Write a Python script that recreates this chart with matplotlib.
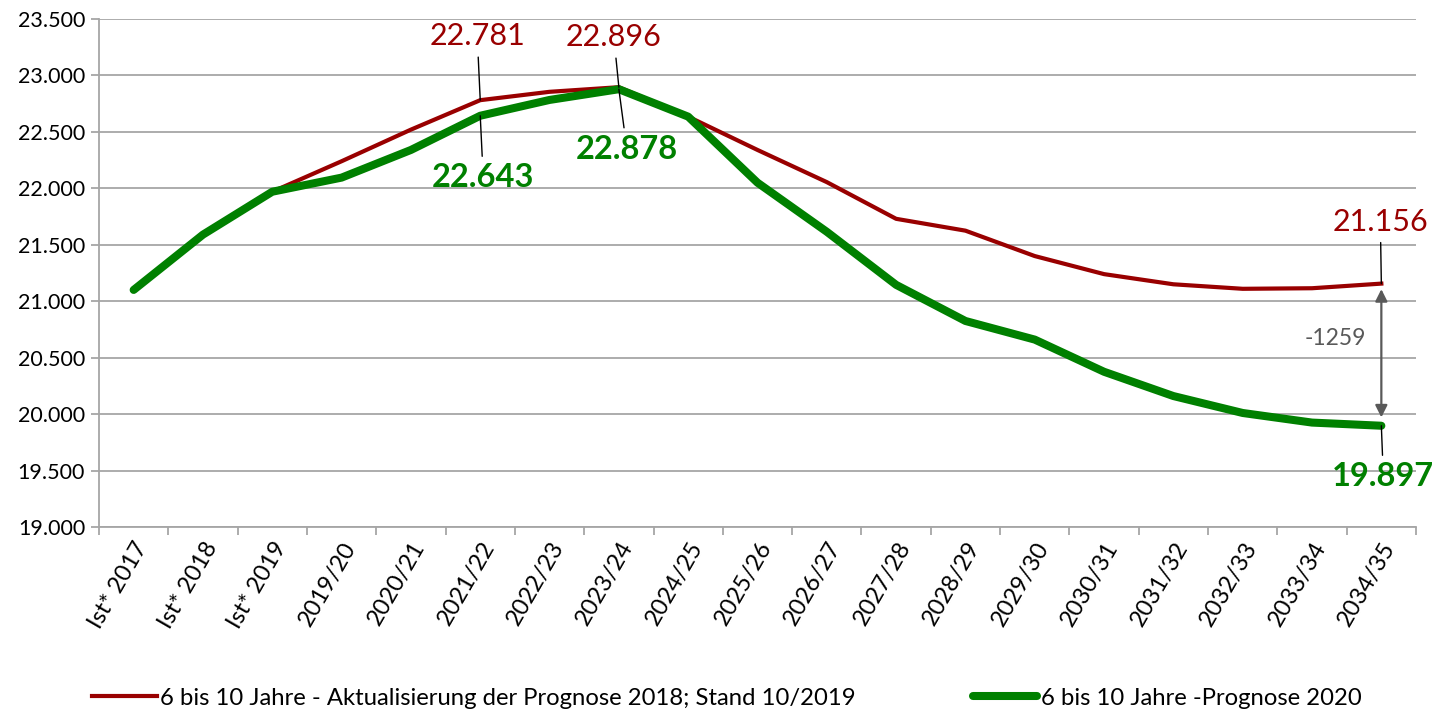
import matplotlib.pyplot as plt
from matplotlib.ticker import FuncFormatter, FixedLocator
import numpy as np

categories = ['Ist* 2017', 'Ist* 2018', 'Ist* 2019', '2019/20', '2020/21', '2021/22',
              '2022/23', '2023/24', '2024/25', '2025/26', '2026/27', '2027/28',
              '2028/29', '2029/30', '2030/31', '2031/32', '2032/33', '2033/34', '2034/35']

prognose_2018 = [21100, 21590, 21970, 22240, 22520, 22781, 22855, 22896, 22635, 22340,
                 22055, 21730, 21625, 21400, 21240, 21150, 21110, 21115, 21156]
prognose_2020 = [21100, 21590, 21970, 22095, 22340, 22643, 22783, 22878, 22635, 22050,
                 21615, 21145, 20825, 20660, 20375, 20160, 20010, 19925, 19897]

label_2018 = '6 bis 10 Jahre - Aktualisierung der Prognose 2018; Stand 10/2019'
label_2020 = '6 bis 10 Jahre -Prognose 2020'

RED = '#990000'
GREEN = '#008000'
GRID = '#a6a6a6'

plt.rcParams['font.family'] = ['Lato', 'DejaVu Sans']

fig = plt.figure(figsize=(14.37, 7.14), dpi=100)
ax = fig.add_axes([99 / 1437, 1 - 527 / 714, (1416 - 99) / 1437, (527 - 19) / 714])

x = np.arange(len(categories))
ax.plot(x, prognose_2018, color=RED, lw=3.0, solid_joinstyle='round', zorder=3, label=label_2018)
ax.plot(x, prognose_2020, color=GREEN, lw=5.8, solid_joinstyle='round', solid_capstyle='round',
        zorder=4, label=label_2020)

ax.set_xlim(-0.5, len(categories) - 0.5)
ax.set_ylim(19000, 23500)
ax.set_yticks(np.arange(19000, 23501, 500))
ax.yaxis.set_major_formatter(FuncFormatter(lambda v, p: f'{v:,.0f}'.replace(',', '.')))
ax.grid(axis='y', color=GRID, lw=1.3)
ax.set_axisbelow(True)

# ticks between categories, labels at category centres
ax.xaxis.set_major_locator(FixedLocator(np.arange(-0.5, len(categories), 1.0)))
ax.xaxis.set_major_formatter(FuncFormatter(lambda v, p: ''))
ax.xaxis.set_minor_locator(FixedLocator(x))
ax.set_xticklabels(categories, minor=True, rotation=60, ha='right', rotation_mode='anchor', fontsize=17)
ax.tick_params(axis='x', which='minor', length=0, pad=8)
ax.tick_params(axis='x', which='major', length=6, color=GRID, width=1.3)
ax.tick_params(axis='y', length=6, color=GRID, width=1.3, labelsize=15.5, pad=4)

for side in ['top', 'right']:
    ax.spines[side].set_visible(False)
for side in ['left', 'bottom']:
    ax.spines[side].set_color(GRID)
    ax.spines[side].set_linewidth(1.3)

def fmt(v):
    return f'{v:,.0f}'.replace(',', '.')

leader = dict(arrowstyle='-', color='black', lw=1.0, shrinkA=3, shrinkB=0)

# data labels with leader lines (offsets in pixels)
for idx, series, dx, dy, col, bold in [
        (5, prognose_2018, -3, 64, RED, False),
        (7, prognose_2018, -5, 50, RED, False),
        (18, prognose_2018, -1, 62, RED, False),
        (5, prognose_2020, 3, -62, GREEN, True),
        (7, prognose_2020, 8, -60, GREEN, True),
        (18, prognose_2020, 2, -51, GREEN, True)]:
    ax.annotate(fmt(series[idx]), xy=(idx, series[idx]), xytext=(dx, dy),
                textcoords='offset pixels', ha='center', va='center',
                fontsize=23.5 if bold else 22, color=col, fontweight='bold' if bold else 'normal',
                arrowprops=leader, zorder=5, annotation_clip=False)

# difference arrow at the end
last = len(categories) - 1
ax.annotate('', xy=(last, prognose_2020[-1]), xytext=(last, prognose_2018[-1]),
            arrowprops=dict(arrowstyle='<|-|>', color='#595959', lw=1.6,
                            mutation_scale=18, shrinkA=4, shrinkB=6), zorder=2)
diff = prognose_2020[-1] - prognose_2018[-1]
ax.annotate(f'{diff}', xy=(last, (prognose_2018[-1] + prognose_2020[-1]) / 2),
            xytext=(-46, 16), textcoords='offset pixels', ha='center', va='center',
            fontsize=16.5, color='#595959')

fig.legend(loc='center left', bbox_to_anchor=(92 / 1437, 0.022), ncol=2, frameon=False,
           fontsize=17.2, handlelength=2.7, handletextpad=0.15, columnspacing=4.9,
           borderaxespad=0, borderpad=0)

fig.savefig('out.png', dpi=100)
